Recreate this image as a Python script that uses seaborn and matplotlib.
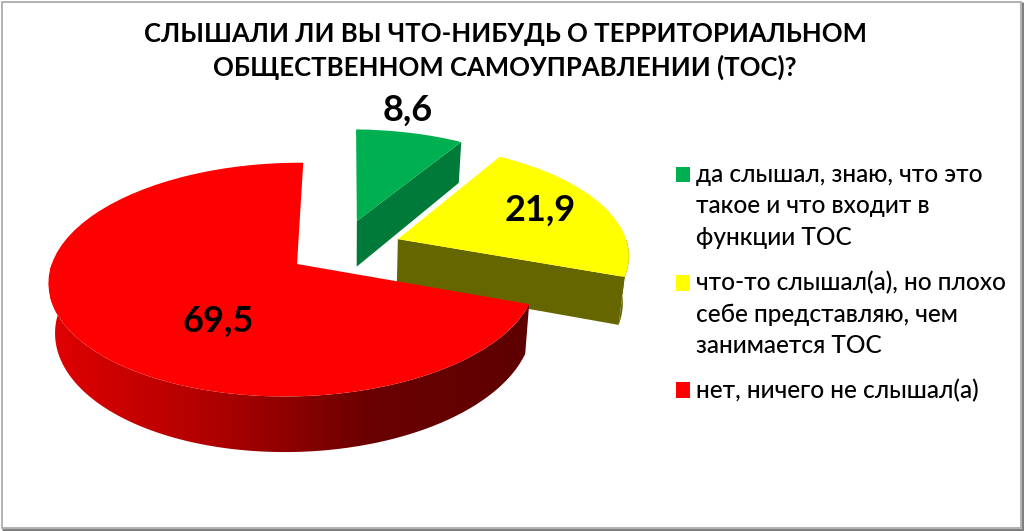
import numpy as np
import matplotlib
matplotlib.use("Agg")
import matplotlib.pyplot as plt
import seaborn as sns
from matplotlib.patches import Rectangle, Polygon
from matplotlib.transforms import Transform
from matplotlib.legend_handler import HandlerPatch
from matplotlib.colors import LinearSegmentedColormap

sns.set_theme(style="white")
plt.rcParams['font.family'] = ['Lato', 'Open Sans', 'DejaVu Sans']

TITLE = "СЛЫШАЛИ ЛИ ВЫ ЧТО-НИБУДЬ О ТЕРРИТОРИАЛЬНОМ\nОБЩЕСТВЕННОМ САМОУПРАВЛЕНИИ (ТОС)?"
categories = ["да слышал, знаю, что это\nтакое и что входит в\nфункции ТОС",
              "что-то слышал(а), но плохо\nсебе представляю, чем\nзанимается ТОС",
              "нет, ничего не слышал(а)"]
values = [8.6, 21.9, 69.5]
top_colors = ["#00B050", "#FFFF00", "#FF0000"]
side_colors = ["#007A38", "#666600", "#A00000"]
offsets = [(0.03, 0.395), (0.206, 0.225), (-0.22, 0.0)]
label_xy = [(408, 110), (540, 210), (218, 321)]

VX, CY, R, RY, K, J, D, SHRINK = 350.0, 264.0, 240.0, 114.4, 0.133, 0.015, 48.0, 0.022


def project(u, v, z=0.0):
    s = 1.0 / (1.0 + K * v + J * u)
    return VX + R * u * s * (1 - SHRINK * z), CY - RY * v * s + D * s * z


class PieProjection(Transform):
    input_dims = output_dims = 2
    is_affine = False
    has_inverse = False

    def __init__(self, offset):
        super().__init__()
        self.offset = offset

    def transform_non_affine(self, xy):
        xy = np.asarray(xy, float)
        x, y = project(xy[:, 0] + self.offset[0], xy[:, 1] + self.offset[1])
        return np.column_stack([x, y])


def rim(th1, th2, off):
    th = np.radians(np.linspace(th1, th2, 200))
    u, v = np.cos(th) + off[0], np.sin(th) + off[1]
    x0, y0 = project(u, v, 0)
    x1, y1 = project(u, v, 1)
    return np.column_stack([np.r_[x0, x1[::-1]], np.r_[y0, y1[::-1]]])


def radial(theta, off):
    t = np.radians(theta)
    u = np.array([off[0], off[0] + np.cos(t)])
    v = np.array([off[1], off[1] + np.sin(t)])
    x0, y0 = project(u, v, 0)
    x1, y1 = project(u, v, 1)
    return np.column_stack([np.r_[x0, x1[::-1]], np.r_[y0, y1[::-1]]])


fig, ax = plt.subplots(figsize=(10.24, 5.31), dpi=100)
fig.subplots_adjust(0, 0, 1, 1)
wedges, _ = ax.pie(values, colors=top_colors, startangle=90, counterclock=False,
                   wedgeprops=dict(linewidth=0))
ax.set_aspect("auto")
ax.set_xlim(0, 1024)
ax.set_ylim(531, 0)
ax.set_axis_off()

for i, w in enumerate(wedges):
    w.set_transform(PieProjection(offsets[i]) + ax.transData)
    base = i * 10
    w.set_zorder(base + 3)
    t1, t2 = w.theta1, w.theta2
    if i < 2:
        ax.add_patch(Polygon(radial(t1, offsets[i]), closed=True, fc=side_colors[i], lw=0, zorder=base + 1))
        low = max(t1, -90)
        if low < 0:
            ax.add_patch(Polygon(rim(low, min(t2, 0), offsets[i]), closed=True,
                                 fc=side_colors[i], lw=0, zorder=base + 1))
    else:
        # front rim of the big slice, shaded left to right
        clip = Polygon(rim(180, 360 + t2 if t2 < 0 else t2, offsets[i]), closed=True, fc="none", lw=0,
                       transform=ax.transData)
        ax.add_patch(clip)
        cmap = LinearSegmentedColormap.from_list("rim", ["#E00000", "#B00000", "#6A0000", "#5E0000"])
        im = ax.imshow(np.linspace(0, 1, 512)[None, :], cmap=cmap, extent=(50, 530, 460, 260),
                       aspect="auto", zorder=base + 1)
        im.set_clip_path(clip)
        ax.set_xlim(0, 1024)
        ax.set_ylim(531, 0)

for v, (x, y) in zip(values, label_xy):
    ax.text(x, y, f"{v}".replace(".", ","), ha="center", va="center", fontsize=26,
            fontweight="bold", color="black", zorder=50)

ax.set_title(TITLE, x=505 / 1024, y=1 - 80 / 531, fontsize=18.5, fontweight="bold",
             color="black", linespacing=1.42, va="bottom", pad=0)


class SquareHandler(HandlerPatch):
    def __init__(self, lift):
        super().__init__()
        self.lift = lift

    def create_artists(self, legend, orig, xd, yd, width, height, fontsize, trans):
        p = Rectangle((-xd, -yd + self.lift), width, height, transform=trans,
                      fc=orig.get_facecolor(), lw=0)
        return [p]


handles = [Rectangle((0, 0), 1, 1, fc=c, lw=0) for c in top_colors]
lifts = [23.0, 23.0, 0.0]
leg = ax.legend(handles, categories, loc="upper left", bbox_to_anchor=(676 / 1024, 1 - 163 / 531),
                frameon=False, fontsize=17.6, borderpad=0, borderaxespad=0,
                handlelength=0.58, handleheight=0.58, handletextpad=0.24, labelspacing=0.91,
                handler_map={h: SquareHandler(l) for h, l in zip(handles, lifts)})
for t in leg.get_texts():
    t.set_linespacing(1.44)
    t.set_fontweight("medium")
    t.set_color("black")
leg.set_zorder(60)

# picture frame
ax.add_patch(Rectangle((2, 2), 1019, 526, fc="none", ec="#A6A6A6", lw=1.2, zorder=70))
ax.plot([1022.5, 1022.5], [2, 531], color="#808080", lw=2.2, zorder=71, solid_capstyle="butt")
ax.plot([2, 1024], [529.5, 529.5], color="#808080", lw=2.2, zorder=71, solid_capstyle="butt")

fig.savefig("out.png", dpi=100)
